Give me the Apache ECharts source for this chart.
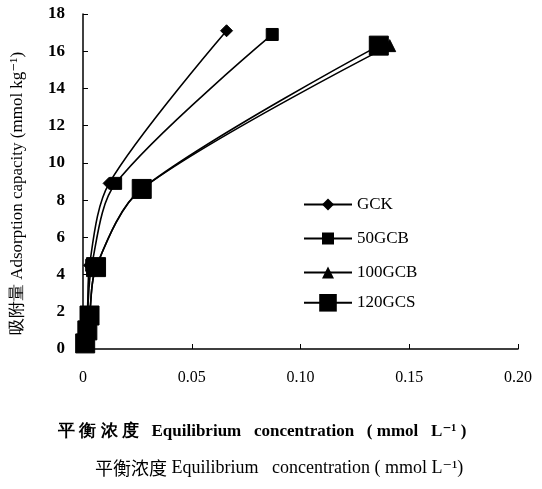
<!DOCTYPE html>
<html>
<head>
<meta charset="utf-8">
<script src="https://cdn.jsdelivr.net/npm/echarts@6/dist/echarts.min.js"></script>
<style>
  html, body { margin: 0; padding: 0; background: #fff; }
  #chart { width: 542px; height: 489px; }
</style>
</head>
<body>
<div id="chart"></div>
<script>
// equilibrium concentration (x) and adsorption capacity (y) per sample
const seriesNames = ['GCK', '50GCB', '100GCB', '120GCS'];
const gckX = [0.0005, 0.001, 0.002, 0.003, 0.012, 0.066];
const gckY = [0.3, 1.0, 1.9, 4.5, 8.9, 17.1];
const gcb50X = [0.0005, 0.001, 0.002, 0.004, 0.015, 0.087];
const gcb50Y = [0.3, 1.0, 1.9, 4.5, 8.9, 16.9];
const gcb100X = [0.001, 0.002, 0.003, 0.006, 0.027, 0.141];
const gcb100Y = [0.3, 1.0, 1.8, 4.4, 8.6, 16.3];
const gcs120X = [0.001, 0.002, 0.003, 0.006, 0.027, 0.136];
const gcs120Y = [0.3, 1.0, 1.8, 4.4, 8.6, 16.3];
const xTicks = ['0', '0.05', '0.10', '0.15', '0.20'];

const serif = '"Liberation Serif", "DejaVu Serif", serif';
const cjk = '"Noto Sans CJK SC", sans-serif';

function pairs(xs, ys) {
  return xs.map((x, i) => [x, ys[i]]);
}

const symbols = [
  {symbol: 'diamond', size: [12, 12]},
  {symbol: 'rect', size: 12},
  {symbol: 'triangle', size: 12},
  {symbol: 'rect', size: 19}
];
const datasets = [
  pairs(gckX, gckY),
  pairs(gcb50X, gcb50Y),
  pairs(gcb100X, gcb100Y),
  pairs(gcs120X, gcs120Y)
];

const legendText = {color: '#000', fontFamily: serif, fontSize: 17};

const chart = echarts.init(document.getElementById('chart'));
chart.setOption({
  animation: false,
  backgroundColor: '#fff',
  grid: {left: 83, right: 24, top: 14, bottom: 140, containLabel: false},
  xAxis: {
    type: 'value',
    min: 0,
    max: 0.2,
    interval: 0.05,
    axisLine: {lineStyle: {color: '#000', width: 1.5}},
    axisTick: {inside: true, length: 5, lineStyle: {color: '#000'}},
    splitLine: {show: false},
    axisLabel: {
      margin: 21,
      color: '#000',
      fontFamily: serif,
      fontSize: 16,
      formatter: (v) => xTicks[Math.round(v / 0.05)]
    }
  },
  yAxis: {
    type: 'value',
    min: 0,
    max: 18,
    interval: 2,
    name: '吸附量 Adsorption capacity (mmol kg⁻¹)',
    nameLocation: 'middle',
    nameGap: 57,
    nameTextStyle: {color: '#000', fontFamily: serif, fontSize: 17, padding: [0, 0, 0, -24]},
    axisLine: {show: true, lineStyle: {color: '#000', width: 1.5}},
    axisTick: {show: true, inside: true, length: 5, lineStyle: {color: '#000'}},
    splitLine: {show: false},
    axisLabel: {margin: 18, color: '#000', fontFamily: serif, fontSize: 17, fontWeight: 'bold'}
  },
  legend: [
    {
      orient: 'vertical',
      left: 298,
      top: 191,
      itemWidth: 48,
      itemHeight: 15,
      itemGap: 17,
      textStyle: legendText,
      data: seriesNames.slice(0, 3)
    },
    {
      left: 298,
      top: 289,
      itemWidth: 48,
      itemHeight: 22,
      textStyle: legendText,
      data: seriesNames.slice(3)
    }
  ],
  graphic: [
    {
      type: 'text',
      left: 58,
      top: 423,
      style: {
        text: '平 衡 浓 度   Equilibrium   concentration   ( mmol   L⁻¹ )',
        font: 'bold 17px ' + serif,
        fill: '#000'
      }
    },
    {
      type: 'text',
      left: 95,
      top: 459,
      style: {
        text: '{a|平衡浓度}{b| Equilibrium   concentration ( mmol L⁻¹)}',
        rich: {
          a: {fontFamily: cjk, fontSize: 18, color: '#000'},
          b: {fontFamily: serif, fontSize: 18, color: '#000'}
        }
      }
    }
  ],
  series: seriesNames.map((name, i) => ({
    name: name,
    type: 'line',
    smooth: 0.3,
    data: datasets[i],
    symbol: symbols[i].symbol,
    symbolSize: symbols[i].size,
    showAllSymbol: true,
    lineStyle: {color: '#000', width: 1.6},
    itemStyle: {color: '#000', borderColor: '#000'},
    z: 2 + i
  }))
});
</script>
</body>
</html>
